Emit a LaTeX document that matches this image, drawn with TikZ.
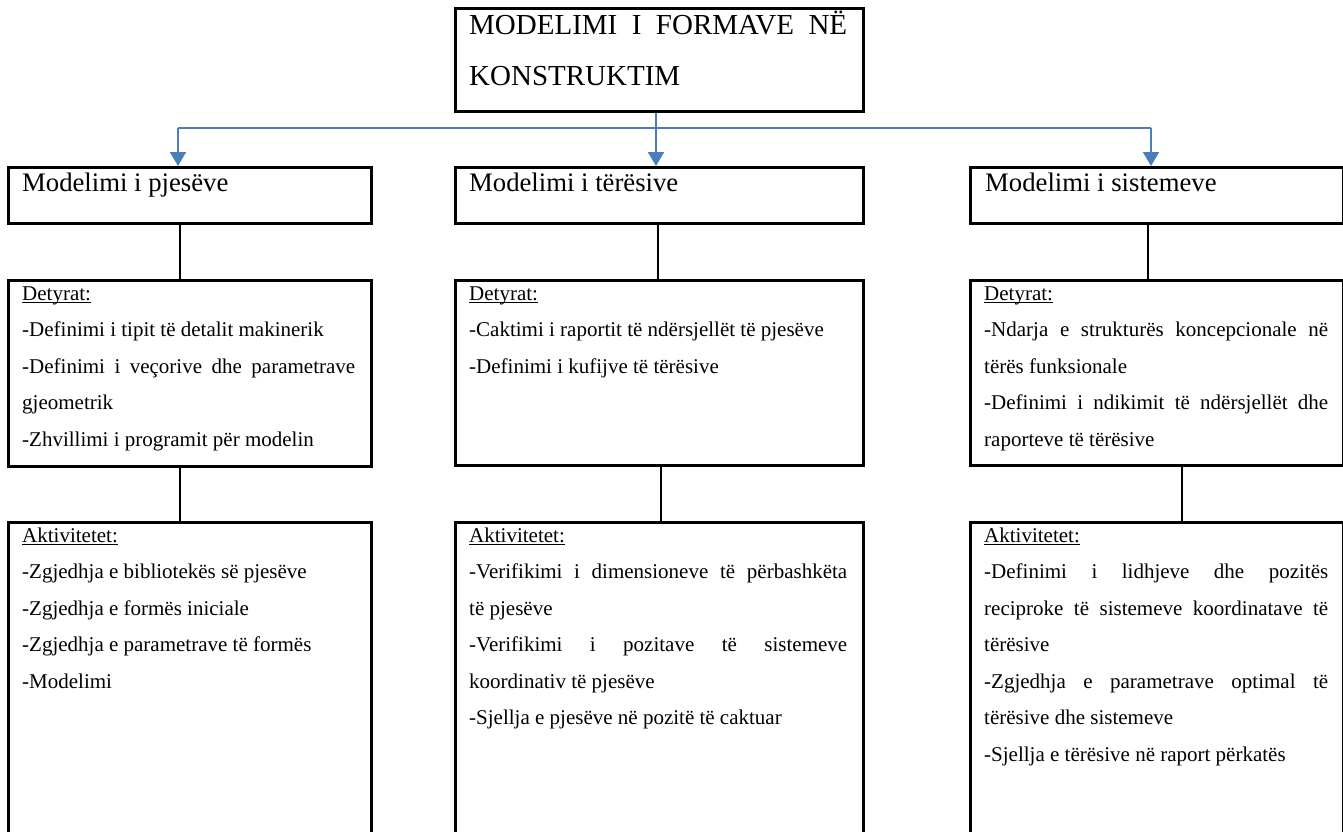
\documentclass[tikz,border=0pt]{standalone}
\usepackage{fontspec}
\setmainfont{Liberation Serif}
\usetikzlibrary{arrows.meta}
\definecolor{wordblue}{RGB}{74,126,187}
\newcommand\myul[1]{\leavevmode\setbox0\hbox{#1}\rlap{\rule[-3.2pt]{\wd0}{1.1pt}}\box0}
\newcommand\bodytext[2]{\parbox[t]{#1}{\fontsize{21pt}{36.5pt}\selectfont\hyphenpenalty=10000\exhyphenpenalty=10000\parindent=0pt\parskip=0pt\emergencystretch=3em\hbadness=10000 #2}}
\begin{document}
\begin{tikzpicture}[x=1pt,y=-1pt,
  box/.style={draw, line width=2.8pt, rectangle, inner sep=0pt, anchor=north west},
  link/.style={line width=2.6pt},
  blueline/.style={draw=wordblue, line width=2pt},
  flow/.style={blueline, -{Triangle[width=16pt,length=14pt]}},
  txt/.style={anchor=base west, inner sep=0pt},
  head/.style={txt, font=\fontsize{26.7pt}{32pt}\selectfont}]
\clip (0,0) rectangle (1343,832);

% boxes
\node[box, minimum width=408pt, minimum height=103pt] (top) at (454,7) {};
\node[box, minimum width=363pt, minimum height=56pt] (l2a) at (7,166) {};
\node[box, minimum width=408pt, minimum height=56pt] (l2b) at (454,166) {};
\node[box, minimum width=372.5pt, minimum height=56pt] (l2c) at (969,166) {};
\node[box, minimum width=363pt, minimum height=186pt] (l3a) at (7,279) {};
\node[box, minimum width=408pt, minimum height=185pt] (l3b) at (454,279) {};
\node[box, minimum width=372.5pt, minimum height=185pt] (l3c) at (969,279) {};
\node[box, minimum width=363pt, minimum height=400pt] (l4a) at (7,521) {};
\node[box, minimum width=408pt, minimum height=400pt] (l4b) at (454,521) {};
\node[box, minimum width=372.5pt, minimum height=400pt] (l4c) at (969,521) {};

% blue connectors
\coordinate (hub) at (656,128);
\coordinate (hl) at (178,128);
\coordinate (hr) at (1151,128);
\draw[blueline] (hl) -- (hr);
\draw[flow] (top.south -| hub) -- (hub |- l2b.north);
\draw[flow] (hl) -- (hl |- l2a.north);
\draw[flow] (hr) -- (hr |- l2c.north);

% black connectors
\coordinate (ca) at (180,0);
\coordinate (cb) at (658,0);
\coordinate (cc) at (1148,0);
\coordinate (da) at (180,0);
\coordinate (db) at (661,0);
\coordinate (dc) at (1182,0);
\draw[link] (ca |- l2a.south) -- (ca |- l3a.north);
\draw[link] (cb |- l2b.south) -- (cb |- l3b.north);
\draw[link] (cc |- l2c.south) -- (cc |- l3c.north);
\draw[link] (da |- l3a.south) -- (da |- l4a.north);
\draw[link] (db |- l3b.south) -- (db |- l4b.north);
\draw[link] (dc |- l3c.south) -- (dc |- l4c.north);

% title
\node[txt] (t0) at (469,35) {\parbox[t]{378pt}{\fontsize{29pt}{51pt}\selectfont\hbadness=10000 MODELIMI I FORMAVE NË\linebreak KONSTRUKTIM}};

% level 2
\node[head] (h1) at (22,191) {Modelimi i pjesëve};
\node[head] (h2) at (469,191) {Modelimi i tërësive};
\node[head] (h3) at (985,191) {Modelimi i sistemeve};

% level 3
\node[txt] (d1) at (22,300) {\bodytext{333pt}{\myul{Detyrat:}\par
-Definimi i tipit të detalit makinerik\par
-Definimi i veçorive dhe parametrave\linebreak gjeometrik\par
-Zhvillimi i programit për modelin}};
\node[txt] (d2) at (469,300) {\bodytext{378pt}{\myul{Detyrat:}\par
-Caktimi i raportit të ndërsjellët të pjesëve\par
-Definimi i kufijve të tërësive}};
\node[txt] (d3) at (984,300) {\bodytext{344pt}{\myul{Detyrat:}\par
-Ndarja e strukturës koncepcionale në\linebreak tërës funksionale\par
-Definimi i ndikimit të ndërsjellët dhe\linebreak raporteve të tërësive}};

% level 4
\node[txt] (a1) at (22,542) {\bodytext{333pt}{\myul{Aktivitetet:}\par
-Zgjedhja e bibliotekës së pjesëve\par
-Zgjedhja e formës iniciale\par
-Zgjedhja e parametrave të formës\par
-Modelimi}};
\node[txt] (a2) at (469,542) {\bodytext{378pt}{\myul{Aktivitetet:}\par
-Verifikimi i dimensioneve të përbashkëta\linebreak të pjesëve\par
-Verifikimi i pozitave të sistemeve\linebreak koordinativ të pjesëve\par
-Sjellja e pjesëve në pozitë të caktuar}};
\node[txt] (a3) at (984,542) {\bodytext{344pt}{\myul{Aktivitetet:}\par
-Definimi i lidhjeve dhe pozitës\linebreak reciproke të sistemeve koordinatave të\linebreak tërësive\par
-Zgjedhja e parametrave optimal të\linebreak tërësive dhe sistemeve\par
-Sjellja e tërësive në raport përkatës}};
\end{tikzpicture}
\end{document}
